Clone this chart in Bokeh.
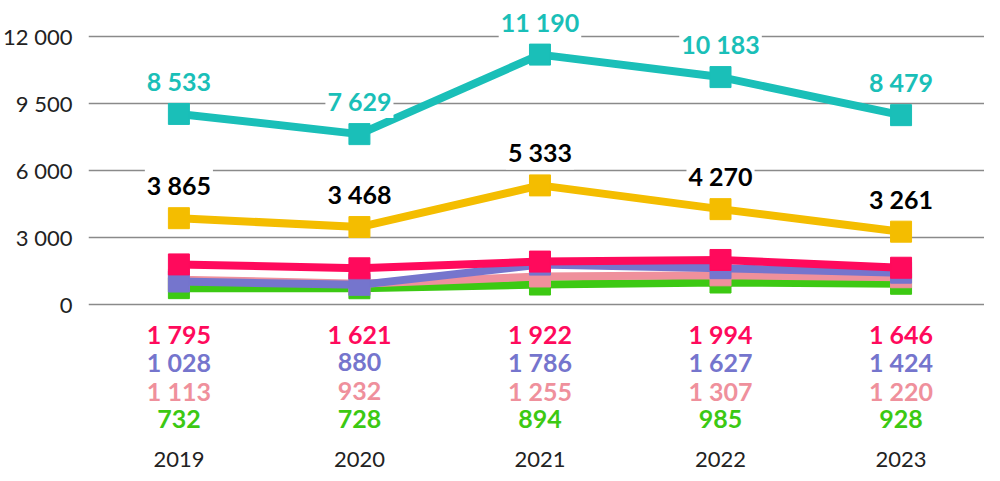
from bokeh.plotting import figure
from bokeh.models import Range1d, FixedTicker, ColumnDataSource
from bokeh.core.properties import value
from bokeh.embed import file_html
from bokeh.resources import INLINE

# ---- data ----
years = ["2019", "2020", "2021", "2022", "2023"]
cyan_vals = [8533, 7629, 11190, 10183, 8479]
yellow_vals = [3865, 3468, 5333, 4270, 3261]
red_vals = [1795, 1621, 1922, 1994, 1646]
purple_vals = [1028, 880, 1786, 1627, 1424]
pink_vals = [1113, 932, 1255, 1307, 1220]
green_vals = [732, 728, 894, 985, 928]
y_ticks = [0, 3000, 6000, 9000, 12000]
y_tick_labels = ["0", "3 000", "6 000", "9 500", "12 000"]

CYAN = "#1ABFB8"
YELLOW = "#F4BD00"
RED = "#FF0A5C"
PURPLE = "#7575CD"
PINK = "#EF909C"
GREEN = "#3CC913"

FONT = "Lato"


def fmt(v):
    return f"{v:,}".replace(",", " ")


xs = list(range(len(years)))

p = figure(
    width=984, height=473,
    output_backend="svg", toolbar_location=None,
    x_range=Range1d(-0.5007, 4.4622),
    y_range=Range1d(-5776, 13254),
    min_border_left=82, min_border_right=0,
    min_border_top=8, min_border_bottom=40,
)
p.outline_line_color = None
p.background_fill_color = "white"
p.border_fill_color = "white"

# axes
p.yaxis.ticker = FixedTicker(ticks=y_ticks)
p.yaxis.major_label_overrides = {t: l for t, l in zip(y_ticks, y_tick_labels)}
p.yaxis.axis_line_color = None
p.yaxis.major_tick_line_color = None
p.yaxis.minor_tick_line_color = None
p.yaxis.major_label_standoff = 10
p.yaxis.major_label_text_font = FONT
p.yaxis.major_label_text_font_size = "22px"
p.yaxis.major_label_text_color = "#222222"

p.xaxis.ticker = FixedTicker(ticks=xs)
p.xaxis.major_label_overrides = {x: y for x, y in zip(xs, years)}
p.xaxis.axis_line_color = None
p.xaxis.major_tick_line_color = None
p.xaxis.minor_tick_line_color = None
p.xaxis.major_label_standoff = 12
p.xaxis.major_label_text_font = FONT
p.xaxis.major_label_text_font_size = "22px"
p.xaxis.major_label_text_color = "#222222"

p.xgrid.grid_line_color = None
p.ygrid.ticker = FixedTicker(ticks=y_ticks)
p.ygrid.grid_line_color = "#8a8a8a"
p.ygrid.grid_line_width = 1.5

series = [
    (green_vals, GREEN),
    (pink_vals, PINK),
    (purple_vals, PURPLE),
    (red_vals, RED),
    (yellow_vals, YELLOW),
    (cyan_vals, CYAN),
]
for vals, col in series:
    p.line(xs, vals, line_color=col, line_width=8)
    p.scatter(xs, vals, marker="square", size=21, fill_color=col, line_color=col)

# labels above markers
for vals, col in [(cyan_vals, CYAN), (yellow_vals, "#000000")]:
    src = ColumnDataSource(dict(x=xs, y=vals, t=[fmt(v) for v in vals]))
    p.text("x", "y", text="t", source=src, y_offset=-33,
           text_align="center", text_baseline="middle",
           text_font=value(FONT), text_font_style="bold",
           text_font_size="25px", text_color=col,
           background_fill_color="white", padding=2)

# labels below the zero line
for vals, col, off in [(red_vals, RED, 29), (purple_vals, PURPLE, 57),
                       (pink_vals, PINK, 86), (green_vals, GREEN, 114)]:
    src = ColumnDataSource(dict(x=xs, y=[0] * len(xs), t=[fmt(v) for v in vals]))
    p.text("x", "y", text="t", source=src, y_offset=off,
           text_align="center", text_baseline="middle",
           text_font=value(FONT), text_font_style="bold",
           text_font_size="25px", text_color=col)

open("out.html", "w").write(file_html(p, INLINE))
